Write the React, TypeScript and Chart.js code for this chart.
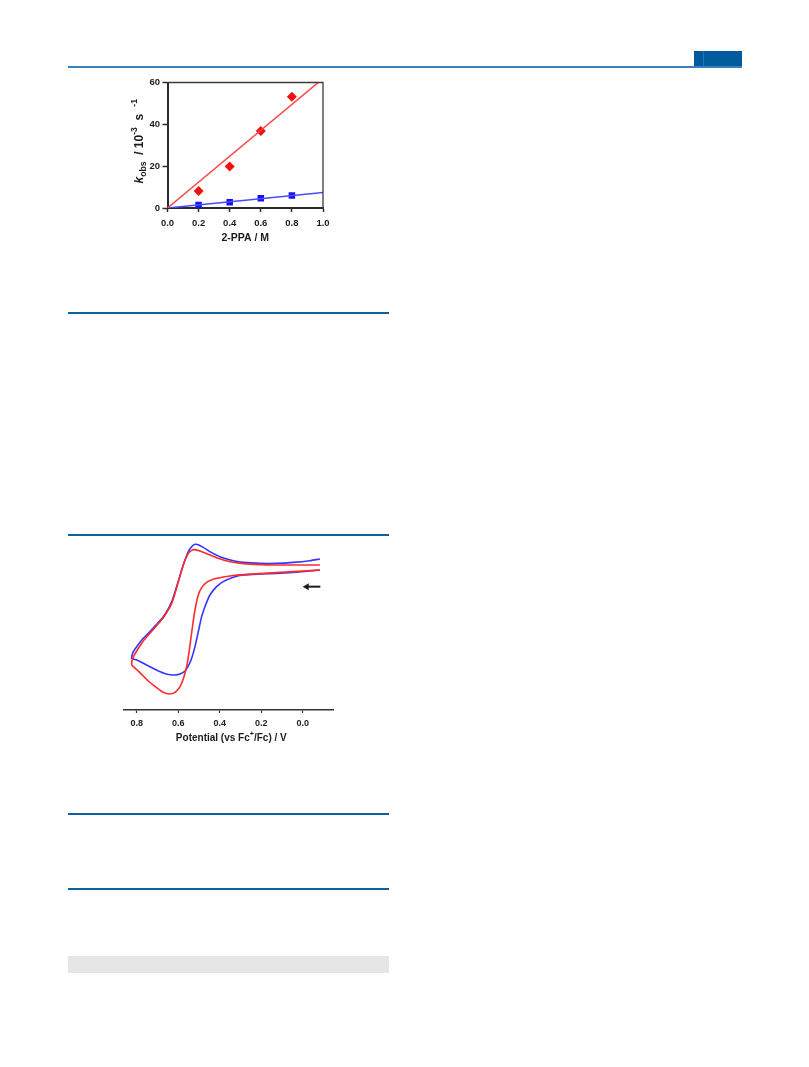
import React, { useEffect, useRef } from "react";
import { Chart, registerables } from "chart.js";

Chart.register(...registerables);

const FONT = "'Liberation Sans', Arial, Helvetica, sans-serif";
const INK = "#1c1c1c";

// ---------- Figure 1: k_obs vs [2-PPA] ----------
const ppaConc = [0.2, 0.4, 0.6, 0.8];
const kRed = [8.1, 19.8, 36.8, 53.2];
const kBlue = [1.4, 2.8, 4.7, 6.0];
const fitX = [0, 1.0];
const fitRed = [0, 61.9];
const fitBlue = [0, 7.4];
const rateXTicks = [0, 0.2, 0.4, 0.6, 0.8, 1.0];
const rateYTicks = [0, 20, 40, 60];

// ---------- Figure 2: cyclic voltammograms ----------
const blueV = [
  -0.083, -0.035, 0.045, 0.125, 0.206, 0.286, 0.334, 0.383, 0.415, 0.447, 0.471, 0.487, 0.503,
  0.519, 0.535, 0.551, 0.567, 0.591, 0.615, 0.64, 0.672, 0.704, 0.736, 0.768, 0.8, 0.824,
  0.816, 0.8, 0.768, 0.736, 0.704, 0.672, 0.648, 0.631, 0.615, 0.599, 0.583, 0.567, 0.551,
  0.535, 0.519, 0.503, 0.479, 0.447, 0.399, 0.334, 0.286, 0.206, 0.125, 0.045, -0.035, -0.083,
];
const blueI = [
  0.0, -0.3, -0.7, -1.0, -1.2, -1.5, -2.2, -3.5, -5.0, -7.5, -11.0, -14.0, -18.5,
  -23.0, -26.5, -28.8, -30.3, -31.2, -31.5, -31.4, -30.9, -30.0, -29.0, -28.0, -27.0, -26.5,
  -24.5, -23.0, -20.5, -18.5, -16.3, -14.0, -11.7, -9.5, -6.5, -3.3, 0.0, 3.0, 5.5,
  7.0, 7.7, 7.6, 6.8, 5.5, 4.0, 2.8, 2.3, 2.0, 2.0, 2.3, 2.8, 3.3,
];
const redV = [
  -0.083, -0.035, 0.045, 0.125, 0.206, 0.286, 0.35, 0.399, 0.431, 0.463, 0.487, 0.503, 0.519,
  0.53, 0.543, 0.556, 0.572, 0.591, 0.615, 0.643, 0.672, 0.704, 0.744, 0.784, 0.816, 0.824,
  0.82, 0.8, 0.768, 0.736, 0.704, 0.672, 0.648, 0.631, 0.615, 0.599, 0.583, 0.567, 0.551,
  0.535, 0.519, 0.495, 0.463, 0.415, 0.35, 0.286, 0.206, 0.125, 0.045, -0.035, -0.083,
];
const redI = [
  0.0, -0.2, -0.5, -0.8, -1.1, -1.4, -1.8, -2.3, -2.8, -3.7, -5.3, -7.5, -12.0,
  -16.5, -22.5, -28.0, -32.0, -35.0, -36.7, -37.2, -36.7, -35.3, -33.3, -30.8, -29.0, -28.5,
  -26.7, -24.3, -21.3, -19.0, -16.7, -14.3, -12.0, -10.0, -7.0, -3.5, 0.0, 3.0, 5.0,
  5.9, 6.1, 5.7, 4.9, 3.7, 2.5, 1.9, 1.6, 1.5, 1.5, 1.5, 1.5,
];
const cvXTicks = [0.8, 0.6, 0.4, 0.2, 0.0];
const arrowTailV = -0.085;
const arrowHeadV = 0.0;
const arrowLevelI = -5.0;

type Seg = { t: string; italic?: boolean; sub?: boolean; sup?: boolean };

const richTitlePlugin = {
  id: "richTitle",
  afterDraw(chart: any, _args: any, opts: any) {
    const items = (opts && opts.items) || [];
    const ctx = chart.ctx;
    const ca = chart.chartArea;
    for (const it of items) {
      ctx.save();
      let cx: number;
      let cy: number;
      if (it.axis === "y") {
        cx = ca.left + it.dx;
        cy = (ca.top + ca.bottom) / 2 + (it.dy || 0);
      } else {
        cx = (ca.left + ca.right) / 2 + (it.dx || 0);
        cy = ca.bottom + it.dy;
      }
      ctx.translate(cx, cy);
      if (it.axis === "y") ctx.rotate(-Math.PI / 2);
      const small = it.size * 0.72;
      const fontFor = (s: Seg) =>
        `${s.italic ? "italic " : ""}bold ${s.sub || s.sup ? small : it.size}px ${FONT}`;
      let total = 0;
      for (const s of it.segs as Seg[]) {
        ctx.font = fontFor(s);
        total += ctx.measureText(s.t).width;
      }
      let x = -total / 2;
      ctx.fillStyle = INK;
      ctx.textBaseline = "alphabetic";
      ctx.textAlign = "left";
      for (const s of it.segs as Seg[]) {
        ctx.font = fontFor(s);
        const yoff = s.sub ? it.size * 0.28 : s.sup ? -it.size * 0.48 : 0;
        ctx.fillText(s.t, x, yoff);
        x += ctx.measureText(s.t).width;
      }
      ctx.restore();
    }
  },
};

const framePlugin = {
  id: "frame",
  afterDatasetsDraw(chart: any, _a: any, opts: any) {
    if (!opts || !opts.enabled) return;
    const { ctx, chartArea } = chart;
    ctx.save();
    ctx.strokeStyle = "#3a3a3a";
    ctx.lineWidth = 1.3;
    ctx.beginPath();
    ctx.moveTo(chartArea.left, chartArea.top);
    ctx.lineTo(chartArea.right, chartArea.top);
    ctx.lineTo(chartArea.right, chartArea.bottom);
    ctx.stroke();
    ctx.restore();
  },
};

const arrowPlugin = {
  id: "scanArrow",
  afterDatasetsDraw(chart: any, _a: any, opts: any) {
    if (!opts || !opts.enabled) return;
    const { ctx } = chart;
    const xs = chart.scales.x;
    const ys = chart.scales.y;
    const x1 = xs.getPixelForValue(arrowTailV);
    const x2 = xs.getPixelForValue(arrowHeadV);
    const y = ys.getPixelForValue(arrowLevelI);
    ctx.save();
    ctx.strokeStyle = INK;
    ctx.fillStyle = INK;
    ctx.lineWidth = 2;
    ctx.beginPath();
    ctx.moveTo(x1, y);
    ctx.lineTo(x2 + 4, y);
    ctx.stroke();
    ctx.beginPath();
    ctx.moveTo(x2, y);
    ctx.lineTo(x2 + 6, y - 3.5);
    ctx.lineTo(x2 + 6, y + 3.5);
    ctx.closePath();
    ctx.fill();
    ctx.restore();
  },
};

function RateChart() {
  const ref = useRef<HTMLCanvasElement | null>(null);
  useEffect(() => {
    if (!ref.current) return;
    const tickFont = { family: FONT, size: 9.5, weight: "bold" as const };
    const chart = new Chart(ref.current, {
      type: "scatter",
      data: {
        datasets: [
          {
            data: fitX.map((x, i) => ({ x, y: fitRed[i] })),
            showLine: true,
            borderColor: "#ff4747",
            borderWidth: 1.5,
            pointRadius: 0,
          },
          {
            data: ppaConc.map((x, i) => ({ x, y: kRed[i] })),
            pointStyle: "rectRot",
            pointRadius: 5,
            backgroundColor: "#f01010",
            borderColor: "#f01010",
            borderWidth: 0,
          },
          {
            data: fitX.map((x, i) => ({ x, y: fitBlue[i] })),
            showLine: true,
            borderColor: "#4a4aff",
            borderWidth: 1.5,
            pointRadius: 0,
          },
          {
            data: ppaConc.map((x, i) => ({ x, y: kBlue[i] })),
            pointStyle: "rect",
            pointRadius: 4.6,
            backgroundColor: "#1414f0",
            borderColor: "#1414f0",
            borderWidth: 0,
          },
        ],
      } as any,
      options: {
        responsive: false,
        animation: false,
        devicePixelRatio: 1,
        layout: { padding: { top: 12.5, right: 17, left: 0, bottom: 0 } },
        plugins: {
          legend: { display: false },
          tooltip: { enabled: false },
          frame: { enabled: true },
          richTitle: {
            items: [
              {
                axis: "y",
                dx: -24.5,
                dy: -4,
                size: 12,
                segs: [
                  { t: "k", italic: true },
                  { t: "obs", sub: true },
                  { t: "  / 10" },
                  { t: "-3", sup: true },
                  { t: "  s" },
                  { t: "   -1", sup: true },
                ],
              },
            ],
          },
        } as any,
        scales: {
          x: {
            type: "linear",
            min: 0,
            max: 1,
            afterBuildTicks: (axis: any) => {
              axis.ticks = rateXTicks.map((v) => ({ value: v }));
            },
            ticks: {
              font: tickFont,
              color: INK,
              padding: 5.5,
              maxRotation: 0,
              callback: (v: any) => Number(v).toFixed(1),
            },
            grid: { display: true, drawOnChartArea: false, tickLength: 4, tickColor: "#2b2b2b", tickWidth: 1.5 },
            border: { display: true, color: "#2b2b2b", width: 2 },
            title: {
              display: true,
              text: "2-PPA / M",
              color: INK,
              font: { family: FONT, size: 10.5, weight: "bold" },
              padding: { top: 0, bottom: 16 },
            },
            afterFit: (s: any) => {
              s.height = 52;
            },
          },
          y: {
            type: "linear",
            min: 0,
            max: 60,
            afterBuildTicks: (axis: any) => {
              axis.ticks = rateYTicks.map((v) => ({ value: v }));
            },
            ticks: { font: tickFont, color: INK, padding: 2.5 },
            grid: { display: true, drawOnChartArea: false, tickLength: 5, tickColor: "#2b2b2b", tickWidth: 1.5 },
            border: { display: true, color: "#2b2b2b", width: 2 },
            afterFit: (s: any) => {
              s.width = 67.5;
            },
          },
        },
      } as any,
      plugins: [framePlugin, richTitlePlugin],
    });
    return () => chart.destroy();
  }, []);
  return (
    <canvas
      ref={ref}
      width={240}
      height={190}
      style={{ position: "absolute", left: 100, top: 70, width: 240, height: 190 }}
    />
  );
}

function CVChart() {
  const ref = useRef<HTMLCanvasElement | null>(null);
  useEffect(() => {
    if (!ref.current) return;
    const chart = new Chart(ref.current, {
      type: "scatter",
      data: {
        datasets: [
          {
            data: redV.map((x, i) => ({ x, y: redI[i] })),
            showLine: true,
            borderColor: "#ff2a2a",
            borderWidth: 1.6,
            pointRadius: 0,
            tension: 0.18,
          },
          {
            data: blueV.map((x, i) => ({ x, y: blueI[i] })),
            showLine: true,
            borderColor: "#3535ff",
            borderWidth: 1.6,
            pointRadius: 0,
            tension: 0.18,
          },
        ],
      } as any,
      options: {
        responsive: false,
        animation: false,
        devicePixelRatio: 1,
        layout: { padding: { top: 6.67, right: 17, left: 14, bottom: 0 } },
        plugins: {
          legend: { display: false },
          tooltip: { enabled: false },
          scanArrow: { enabled: true },
          richTitle: {
            items: [
              {
                axis: "x",
                dx: 2.8,
                dy: 31,
                size: 10,
                segs: [
                  { t: "Potential (vs Fc" },
                  { t: "+", sup: true },
                  { t: "/Fc) / V" },
                ],
              },
            ],
          },
        } as any,
        scales: {
          x: {
            type: "linear",
            reverse: true,
            min: -0.146,
            max: 0.861,
            afterBuildTicks: (axis: any) => {
              axis.ticks = cvXTicks.map((v) => ({ value: v }));
            },
            ticks: {
              font: { family: FONT, size: 9, weight: "bold" },
              color: INK,
              padding: 5.5,
              maxRotation: 0,
              callback: (v: any) => Number(v).toFixed(1),
            },
            grid: { display: true, drawOnChartArea: false, tickLength: 3, tickColor: "#333", tickWidth: 1.2 },
            border: { display: true, color: "#333", width: 1.5 },
            afterFit: (s: any) => {
              s.height = 40;
            },
          },
          y: {
            type: "linear",
            display: false,
            min: -42,
            max: 10,
          },
        },
      } as any,
      plugins: [arrowPlugin, richTitlePlugin],
    });
    return () => chart.destroy();
  }, []);
  return (
    <canvas
      ref={ref}
      width={240}
      height={220}
      style={{ position: "absolute", left: 110, top: 530, width: 240, height: 220 }}
    />
  );
}

const ruleTops = [312, 534, 813, 888];

export default function App() {
  return (
    <div
      style={{
        position: "absolute",
        left: 0,
        top: 0,
        width: 809,
        height: 1067,
        background: "#ffffff",
        overflow: "hidden",
        fontFamily: FONT,
      }}
    >
      <div style={{ position: "absolute", left: 694, top: 51, width: 48, height: 15, background: "#005b9c" }} />
      <div style={{ position: "absolute", left: 703, top: 51, width: 1, height: 15, background: "#2776b2" }} />
      <div style={{ position: "absolute", left: 68, top: 66, width: 674, height: 2, background: "#3c80bb" }} />
      {ruleTops.map((t) => (
        <div key={t} style={{ position: "absolute", left: 68, top: t, width: 321, height: 2, background: "#0f609c" }} />
      ))}
      <div style={{ position: "absolute", left: 68, top: 956, width: 321, height: 17, background: "#e6e6e6" }} />
      <RateChart />
      <CVChart />
    </div>
  );
}
